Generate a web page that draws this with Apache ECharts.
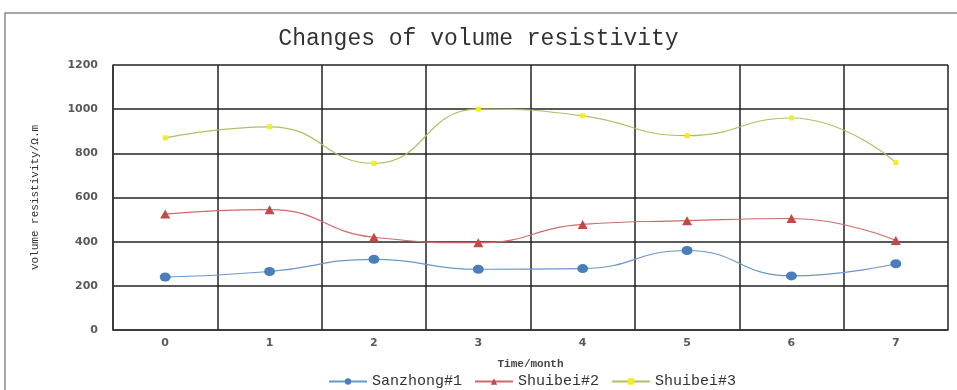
<!DOCTYPE html>
<html>
<head>
<meta charset="utf-8">
<script src="https://cdn.jsdelivr.net/npm/echarts@6/dist/echarts.min.js"></script>
<style>
  html, body { margin: 0; padding: 0; background: #fff; }
  #chart { width: 957px; height: 390px; }
</style>
</head>
<body>
<div id="chart"></div>
<script>
// Monthly readings of volume resistivity for three samples
const months = ['0', '1', '2', '3', '4', '5', '6', '7'];
const sanzhong1 = [240, 265, 320, 275, 278, 360, 245, 300];
const shuibei2 = [525, 545, 420, 395, 478, 495, 505, 405];
const shuibei3 = [870, 920, 755, 1000, 970, 880, 960, 758];

const monoFont = '"Liberation Mono", "DejaVu Sans Mono", monospace';
const tickFont = '"DejaVu Sans", Verdana, sans-serif';

const chart = echarts.init(document.getElementById('chart'));

chart.setOption({
  animation: false,
  backgroundColor: '#fff',
  graphic: [{
    type: 'rect',
    shape: { x: 5, y: 13, width: 980, height: 400 },
    style: { fill: 'none', stroke: '#8a8a8a', lineWidth: 1.5 },
    silent: true
  }],
  title: {
    text: 'Changes of volume resistivity',
    left: 'center',
    top: 22,
    textStyle: { fontFamily: monoFont, fontSize: 23, fontWeight: 'normal', color: '#333' }
  },
  legend: {
    top: 369,
    left: 323,
    itemWidth: 38,
    itemHeight: 8,
    itemGap: 12,
    textStyle: { fontFamily: monoFont, fontSize: 15, color: '#333' },
    data: ['Sanzhong#1', 'Shuibei#2', 'Shuibei#3']
  },
  grid: { left: 113, right: 9, top: 65, bottom: 60 },
  xAxis: {
    type: 'category',
    data: months,
    boundaryGap: true,
    name: 'Time/month',
    nameLocation: 'middle',
    nameGap: 29,
    nameTextStyle: { fontFamily: monoFont, fontSize: 11, fontWeight: 'bold', color: '#444' },
    axisLine: { lineStyle: { color: '#333', width: 1.5 } },
    axisTick: { show: false },
    axisLabel: { margin: 8, fontFamily: tickFont, fontSize: 11, fontWeight: 'bold', color: '#5a5a5a' },
    splitLine: { show: true, lineStyle: { color: '#222', width: 1.5 } }
  },
  yAxis: {
    type: 'value',
    min: 0,
    max: 1200,
    interval: 200,
    name: 'volume resistivity/Ω.m',
    nameLocation: 'middle',
    nameGap: 72,
    nameTextStyle: { fontFamily: monoFont, fontSize: 11, color: '#333' },
    axisLine: { show: true, lineStyle: { color: '#333', width: 1.5 } },
    axisTick: { show: false },
    axisLabel: {
      margin: 15,
      fontFamily: tickFont,
      fontSize: 11,
      fontWeight: 'bold',
      color: '#5a5a5a',
      formatter: function (v) { return String(v); }
    },
    splitLine: { show: true, lineStyle: { color: '#222', width: 1.5 } }
  },
  series: [
    {
      name: 'Sanzhong#1',
      type: 'line',
      data: sanzhong1,
      smooth: 0.5,
      symbol: 'circle',
      symbolSize: [11, 9],
      itemStyle: { color: '#4a7ebb' },
      lineStyle: { color: '#6a96cc', width: 1.2 }
    },
    {
      name: 'Shuibei#2',
      type: 'line',
      data: shuibei2,
      smooth: 0.5,
      symbol: 'triangle',
      symbolSize: [10, 9],
      itemStyle: { color: '#be4b48' },
      lineStyle: { color: '#d06a68', width: 1.2 }
    },
    {
      name: 'Shuibei#3',
      type: 'line',
      data: shuibei3,
      smooth: 0.5,
      symbol: 'rect',
      symbolSize: 5,
      itemStyle: { color: '#f2ee20' },
      lineStyle: { color: '#a9c264', width: 1.2 }
    }
  ]
});
</script>
</body>
</html>
